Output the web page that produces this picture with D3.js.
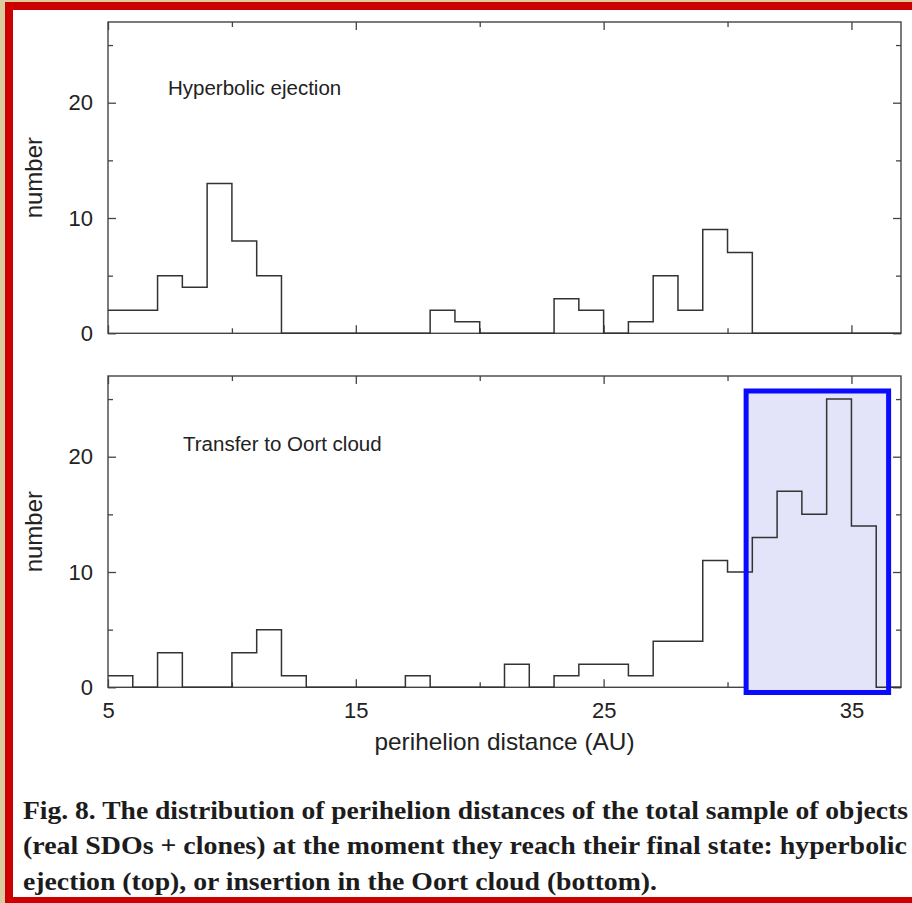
<!DOCTYPE html>
<html>
<head>
<meta charset="utf-8">
<script src="https://cdn.jsdelivr.net/npm/d3@7"></script>
<style>
  body { margin: 0; background: #fff; }
  svg { display: block; }
  .tick line { stroke: #444; stroke-width: 1.3; }
  .tick text { font-family: "Liberation Sans", Arial, sans-serif; font-size: 22px; fill: #222; }
  .domain { display: none; }
</style>
</head>
<body>
<div id="chart"></div>
<script>
// bins are 1 AU wide, listed by their left edge
const binStarts = [5, 6, 7, 8, 9, 10, 11, 12, 13, 14, 15, 16, 17, 18, 19, 20,
                   21, 22, 23, 24, 25, 26, 27, 28, 29, 30, 31, 32, 33, 34, 35, 36]
const hyperbolic = [2, 2, 5, 4, 13, 8, 5, 0, 0, 0, 0, 0, 0, 2, 1, 0,
                    0, 0, 3, 2, 0, 1, 5, 2, 9, 7, 0, 0, 0, 0, 0, 0]
const oortCloud = [1, 0, 3, 0, 0, 3, 5, 1, 0, 0, 0, 0, 1, 0, 0, 0,
                   2, 0, 1, 2, 2, 1, 4, 4, 11, 10, 13, 17, 15, 25, 14, 0]
const xMajorTicks = [5, 15, 25, 35]
const xMinorTicks = [10, 20, 30]
const yMajorTicks = [0, 10, 20]
const yMinorTicks = [5, 15, 25]
const captionLines = [
  "Fig. 8. The distribution of perihelion distances of the total sample of objects",
  "(real SDOs + clones) at the moment they reach their final state: hyperbolic",
  "ejection (top), or insertion in the Oort cloud (bottom)."
]
// highlighted region in the bottom panel, in data units
const highlightX = [30.75, 36.5]
const highlightY = [-0.45, 25.7]

const W = 912, H = 903
const left = 108, right = 901

const svg = d3.select("#chart").append("svg")
  .attr("width", W)
  .attr("height", H)

svg.append("rect").attr("width", W).attr("height", H).attr("fill", "#fff")

const x = d3.scaleLinear().domain([5, 37]).range([left, right])

function drawPanel(top, bottom, values, label, labelPos, showXLabels) {
  const y = d3.scaleLinear().domain([0, 27]).range([bottom, top])
  const g = svg.append("g")

  // ticks on all four sides, pointing inward
  const axes = [
    [d3.axisBottom(x).tickValues(xMajorTicks).tickSize(-8), `translate(0,${bottom})`, showXLabels],
    [d3.axisBottom(x).tickValues(xMinorTicks).tickSize(-5), `translate(0,${bottom})`, false],
    [d3.axisTop(x).tickValues(xMajorTicks).tickSize(-8), `translate(0,${top})`, false],
    [d3.axisTop(x).tickValues(xMinorTicks).tickSize(-5), `translate(0,${top})`, false],
    [d3.axisLeft(y).tickValues(yMajorTicks).tickSize(-8), `translate(${left},0)`, true],
    [d3.axisLeft(y).tickValues(yMinorTicks).tickSize(-5), `translate(${left},0)`, false],
    [d3.axisRight(y).tickValues(yMajorTicks).tickSize(-8), `translate(${right},0)`, false],
    [d3.axisRight(y).tickValues(yMinorTicks).tickSize(-5), `translate(${right},0)`, false]
  ]
  axes.forEach(([axis, tr, labels]) => {
    axis.tickSizeOuter(0).tickPadding(labels ? 15 : 0)
    if (!labels) axis.tickFormat("")
    g.append("g").attr("transform", tr).call(axis)
  })

  g.append("rect")
    .attr("x", left).attr("y", top)
    .attr("width", right - left).attr("height", bottom - top)
    .attr("fill", "none")
    .attr("stroke", "#444")
    .attr("stroke-width", 1.4)

  g.append("text")
    .attr("transform", `translate(42,${(top + bottom) / 2}) rotate(-90)`)
    .attr("text-anchor", "middle")
    .attr("font-family", "Liberation Sans, Arial, sans-serif")
    .attr("font-size", 24)
    .attr("fill", "#222")
    .text("number")

  g.append("text")
    .attr("x", labelPos[0]).attr("y", labelPos[1])
    .attr("font-family", "Liberation Sans, Arial, sans-serif")
    .attr("font-size", 20.5)
    .attr("fill", "#222")
    .text(label)

  return {g, y, values}
}

function drawSteps(panel) {
  const pts = binStarts.map((b, i) => [b, panel.values[i]])
  pts.push([binStarts[binStarts.length - 1] + 1, 0])
  const line = d3.line()
    .x(d => x(d[0]))
    .y(d => panel.y(d[1]))
    .curve(d3.curveStepAfter)
  panel.g.append("path")
    .attr("d", line(pts))
    .attr("fill", "none")
    .attr("stroke", "#333")
    .attr("stroke-width", 1.5)
}

const topPanel = drawPanel(22, 333.3, hyperbolic, "Hyperbolic ejection", [168, 95], false)
drawSteps(topPanel)

const botPanel = drawPanel(376, 687.3, oortCloud, "Transfer to Oort cloud", [183, 451], true)

// highlight box fill goes under the histogram
const hx0 = x(highlightX[0]), hx1 = x(highlightX[1])
const hy0 = botPanel.y(highlightY[1]), hy1 = botPanel.y(highlightY[0])
botPanel.g.append("rect")
  .attr("x", hx0).attr("y", hy0)
  .attr("width", hx1 - hx0).attr("height", hy1 - hy0)
  .attr("fill", "#e3e3fa")
drawSteps(botPanel)
botPanel.g.append("rect")
  .attr("x", hx0).attr("y", hy0)
  .attr("width", hx1 - hx0).attr("height", hy1 - hy0)
  .attr("fill", "none")
  .attr("stroke", "#0a0aff")
  .attr("stroke-width", 5)

svg.append("text")
  .attr("x", (left + right) / 2)
  .attr("y", 750)
  .attr("text-anchor", "middle")
  .attr("font-family", "Liberation Sans, Arial, sans-serif")
  .attr("font-size", 24)
  .attr("fill", "#222")
  .attr("textLength", 260)
  .attr("lengthAdjust", "spacingAndGlyphs")
  .text("perihelion distance (AU)")

// caption, Times-like bold, squeezed to the original line widths
const captionWidths = [885, 884, 634]
const captionY = [819, 854, 890]
captionLines.forEach((t, i) => {
  svg.append("text")
    .attr("x", 23)
    .attr("y", captionY[i])
    .attr("font-family", "Liberation Serif, Times New Roman, serif")
    .attr("font-weight", "bold")
    .attr("font-size", 25)
    .attr("fill", "#1c1c1c")
    .attr("textLength", captionWidths[i])
    .attr("lengthAdjust", "spacingAndGlyphs")
    .text(t)
})

// page frame: beige margin and red border
svg.append("rect").attr("x", 0).attr("y", 0).attr("width", 5).attr("height", H).attr("fill", "#dccb9f")
svg.append("rect").attr("x", 0).attr("y", 0).attr("width", W).attr("height", 2).attr("fill", "#dccb9f")
svg.append("rect").attr("x", 5).attr("y", 2).attr("width", 8).attr("height", H - 2).attr("fill", "#cc0000")
svg.append("rect").attr("x", 5).attr("y", 2).attr("width", W - 5).attr("height", 8).attr("fill", "#cc0000")
svg.append("rect").attr("x", 5).attr("y", 897).attr("width", W - 5).attr("height", 6).attr("fill", "#cc0000")
</script>
</body>
</html>
